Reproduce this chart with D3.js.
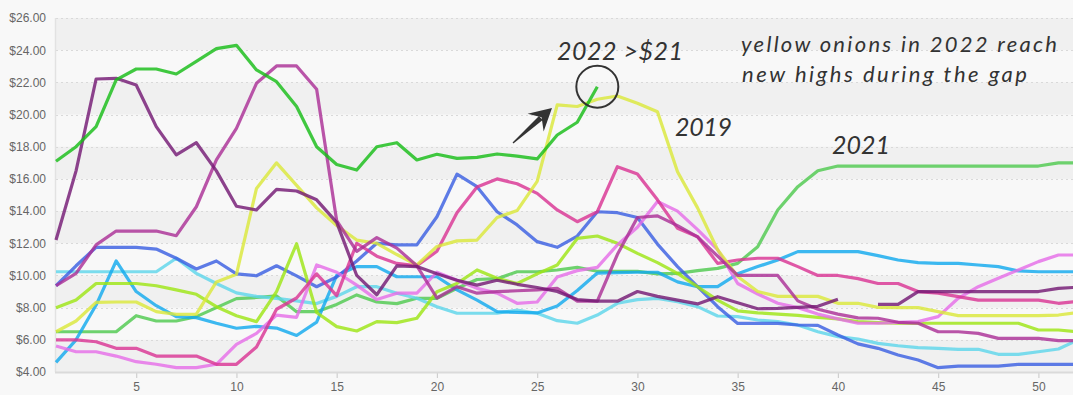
<!DOCTYPE html>
<html><head><meta charset="utf-8">
<script src="https://cdn.jsdelivr.net/npm/d3@7/dist/d3.min.js"></script>
<style>
html,body{margin:0;padding:0;background:#f8f8f8;}
svg{display:block;}
</style></head><body>
<svg id="chart" width="1073" height="395"></svg>
<script>
// ---------- data ----------
const weeks = d3.range(1, 53);
const yTicks = [4, 6, 8, 10, 12, 14, 16, 18, 20, 22, 24, 26];
const xTicks = [5, 10, 15, 20, 25, 30, 35, 40, 45, 50];

const seriesNames = ["2021", "lightCyan", "skyBlue", "blue", "lime", "violet", "pink", "2019", "magenta", "darkPurple", "2022"];

const v2021 = [6.5,6.5,6.5,6.5,7.5,7.17,7.17,7.44,8.0,8.56,8.63,8.73,7.75,7.75,8.2,8.79,8.35,8.25,8.58,8.58,9.2,9.75,9.8,10.23,10.23,10.34,10.5,10.26,10.25,10.25,10.1,10.13,10.3,10.44,10.75,11.79,14.07,15.52,16.51,16.8,16.8,16.8,16.8,16.8,16.8,16.8,16.8,16.8,16.8,16.8,17.0,17.0];
const vLightCyan = [10.23,10.23,10.23,10.23,10.23,10.23,11.07,10.13,9.5,8.92,8.7,8.58,8.42,8.25,8.7,9.3,9.3,8.89,8.58,8.06,7.65,7.65,7.65,7.85,7.65,7.19,7.03,7.54,8.27,8.5,8.57,8.37,8.06,7.48,7.44,7.23,7.13,6.92,6.5,6.2,6.05,5.78,5.63,5.51,5.47,5.41,5.41,5.1,5.1,5.26,5.43,6.0];
const vSkyBlue = [4.6,6.0,8.16,10.9,9.0,8.12,7.44,7.38,7.03,6.72,6.84,6.73,6.27,7.1,10.0,10.55,10.55,9.92,9.92,9.92,9.1,8.47,7.75,7.7,7.67,8.1,9.07,10.15,10.17,10.2,10.2,9.6,9.3,9.3,10.1,10.55,10.96,11.48,11.48,11.48,11.48,11.23,10.96,10.8,10.75,10.75,10.65,10.55,10.28,10.23,10.23,10.23];
const vBlue = [9.36,10.6,11.75,11.75,11.75,11.64,11.07,10.4,10.9,10.1,9.98,10.6,9.97,9.3,9.9,10.9,12.0,11.9,11.9,13.65,16.3,15.52,13.96,13.14,12.1,11.75,12.45,13.96,13.9,13.6,11.95,10.55,9.3,8.06,7.02,7.02,7.02,6.92,6.9,6.3,5.75,5.47,5.06,4.75,4.27,4.37,4.37,4.37,4.48,4.48,4.48,4.48];
const vLime = [8.0,8.47,9.5,9.5,9.5,9.36,9.1,8.83,8.06,7.5,7.13,9.0,11.97,7.7,6.82,6.55,7.13,7.07,7.34,8.99,9.5,10.34,9.82,9.5,10.1,10.65,12.3,12.45,12.0,11.37,10.8,10.13,9.3,8.47,7.8,7.68,7.6,7.52,7.4,7.3,7.13,7.07,7.03,7.03,7.03,7.03,7.03,7.03,7.03,6.61,6.61,6.5];
const vViolet = [5.62,5.26,5.26,4.99,4.64,4.48,4.27,4.27,4.48,5.72,6.4,7.54,7.4,10.65,10.2,9.4,8.5,8.9,8.9,10.2,9.7,9.2,8.9,8.27,8.35,9.9,10.3,10.5,11.9,13.0,14.6,14.0,12.85,11.6,9.5,8.85,8.27,8.0,7.6,7.3,7.03,7.03,7.09,7.13,7.44,8.58,9.3,9.82,10.34,10.86,11.27,11.27];
const vPink = [6.0,6.0,5.88,5.47,5.47,4.99,4.99,4.99,4.48,4.48,5.55,7.9,8.6,10.1,8.75,12.0,11.2,10.75,10.6,11.5,13.9,15.5,16.0,15.7,15.1,14.07,13.34,13.96,16.76,16.3,14.7,12.93,12.4,10.75,10.96,11.07,11.07,10.55,10.0,10.0,9.8,9.5,9.5,9.0,8.9,8.68,8.47,8.47,8.47,8.47,8.27,8.4];
const v2019 = [6.5,7.17,8.33,8.35,8.35,7.75,7.58,7.6,9.6,10.07,15.41,17.0,15.6,14.2,13.1,12.2,12.0,11.3,10.65,11.8,12.15,12.2,13.6,14.03,15.85,20.6,20.5,20.95,21.15,20.7,20.18,16.45,14.2,11.6,9.93,9.0,8.7,8.7,8.7,8.27,8.27,8.02,8.0,8.0,7.75,7.5,7.5,7.5,7.5,7.5,7.54,7.7];
const vMagenta = [9.36,10.13,11.9,12.76,12.76,12.76,12.47,14.27,17.18,19.14,21.94,23.02,23.02,21.57,13.4,11.5,12.35,11.7,10.6,8.6,9.3,8.9,9.0,9.05,9.1,9.2,8.4,8.4,11.3,13.6,13.7,13.1,12.4,11.2,10.0,10.0,10.0,8.42,7.9,7.6,7.36,7.34,7.09,7.03,6.5,6.5,6.4,6.09,6.09,6.09,5.95,5.95];
const vDarkPurple = [12.2,16.5,22.21,22.25,21.84,19.25,17.49,18.25,16.5,14.3,14.07,15.35,15.25,14.7,13.3,10.0,8.8,10.6,10.55,10.1,9.7,9.4,9.7,9.45,9.25,9.0,8.5,8.4,8.4,9.0,8.7,8.47,8.23,8.68,8.3,7.93,7.96,8.02,8.08,8.52,null,8.2,8.2,9.0,9.0,9.0,9.0,9.0,9.0,9.0,9.2,9.27];
const v2022 = [17.1,18.0,19.25,22.15,22.83,22.83,22.52,23.3,24.1,24.3,22.77,22.04,20.5,18.0,16.9,16.55,18.0,18.25,17.18,17.53,17.28,17.34,17.55,17.42,17.24,18.73,19.52,21.73,null,null,null,null,null,null,null,null,null,null,null,null,null,null,null,null,null,null,null,null,null,null,null,null];

const seriesValues = [v2021, vLightCyan, vSkyBlue, vBlue, vLime, vViolet, vPink, v2019, vMagenta, vDarkPurple, v2022];
const seriesColors = ["#4fc94f", "#5ed6ea", "#12a9ee", "#3a5fe2", "#9ee515", "#e56ee8", "#d93594", "#dbe83a", "#ab2f96", "#741a74", "#17bd17"];

// ---------- chart ----------
const W = 1073, H = 395;
const svg = d3.select("#chart");
const x = d3.scaleLinear().domain([1, 52]).range([56, 1078.5]);
const y = d3.scaleLinear().domain([4, 26]).range([372, 18]);
const plotRight = W;

svg.append("rect").attr("width", W).attr("height", H).attr("fill", "#f8f8f8");

// alternating bands
const bandStarts = yTicks.filter((t, i) => i % 2 === 0 && t < 26);
svg.append("g").selectAll("rect").data(bandStarts).join("rect")
  .attr("x", x(1)).attr("width", plotRight - x(1))
  .attr("y", d => y(d + 2)).attr("height", d => y(d) - y(d + 2))
  .attr("fill", "#f0f0f0");

// dotted gridlines
svg.append("g").selectAll("line").data(yTicks.filter(t => t > 4)).join("line")
  .attr("x1", x(1)).attr("x2", plotRight)
  .attr("y1", d => Math.round(y(d)) + 0.5).attr("y2", d => Math.round(y(d)) + 0.5)
  .attr("stroke", "#d9d9d9").attr("stroke-width", 1.2)
  .attr("stroke-dasharray", "2,3");

// y axis labels
const gy = svg.append("g").attr("transform", `translate(${x(1)},0)`)
  .call(d3.axisLeft(y).tickValues(yTicks).tickFormat(d => "$" + d.toFixed(2)).tickSize(0).tickPadding(10));
gy.select(".domain").remove();
gy.selectAll("text").attr("fill", "#666").style("font-family", "'Liberation Sans', Arial, sans-serif").style("font-size", "12px");

// x axis
const gx = svg.append("g").attr("transform", `translate(0,${y(4)})`)
  .call(d3.axisBottom(x).tickValues(xTicks).tickFormat(d3.format("d")).tickSize(6).tickPadding(4));
gx.select(".domain").remove();
gx.selectAll("line").attr("stroke", "#cfcfcf").attr("stroke-width", 1.2);
gx.selectAll("text").attr("fill", "#666").style("font-family", "'Liberation Sans', Arial, sans-serif").style("font-size", "12px");

// axis lines
svg.append("line").attr("x1", x(1) - 0.5).attr("x2", x(1) - 0.5).attr("y1", y(26)).attr("y2", y(4))
  .attr("stroke", "#e2e2e2").attr("stroke-width", 1.5);
svg.append("line").attr("x1", x(1) - 1).attr("x2", plotRight).attr("y1", y(4) + 0.5).attr("y2", y(4) + 0.5)
  .attr("stroke", "#dadada").attr("stroke-width", 2);

// series lines
const line = d3.line()
  .defined(d => d != null)
  .x((d, i) => x(weeks[i]))
  .y(d => y(d));

svg.append("g").selectAll("path").data(seriesValues).join("path")
  .attr("d", d => line(d))
  .attr("fill", "none")
  .attr("stroke", (d, i) => seriesColors[i])
  .attr("stroke-width", 3.2)
  .attr("stroke-opacity", 0.82)
  .attr("stroke-linejoin", "round")
  .attr("stroke-linecap", "butt");

// ---------- annotations ----------
const annFont = "Lato, 'Open Sans', sans-serif";
function note(txt, px, py, size, targetW) {
  const t = svg.append("text").attr("x", px).attr("y", py)
    .style("font-family", annFont).style("font-style", "italic").style("font-weight", 400)
    .style("font-size", size + "px").attr("fill", "#333").text(txt);
  if (targetW) t.attr("textLength", targetW).attr("lengthAdjust", "spacing");
  return t;
}
note("2022 >$21", 557, 60, 25, 126);
note("2019", 675, 136, 25, 57);
note("2021", 832, 154, 25, 58);
note("yellow onions in 2022 reach", 741, 52, 22, 316);
note("new highs during the gap", 742, 82, 22, 285);

// circle around last 2022 point
const lastIdx = 27;
svg.append("circle").attr("cx", x(weeks[lastIdx])).attr("cy", y(v2022[lastIdx]))
  .attr("r", 21).attr("fill", "none").attr("stroke", "#333").attr("stroke-width", 2);

// arrow
const tail = [513, 143], tip = [552, 108];
const dx = tip[0] - tail[0], dy = tip[1] - tail[1], L = Math.hypot(dx, dy);
const u = [dx / L, dy / L], n = [-u[1], u[0]];
const P = (base, a, b) => [base[0] + u[0] * a + n[0] * b, base[1] + u[1] * a + n[1] * b];
const shaft = [P(tail, 0, -0.6), P(tail, 0, 0.6), P(tip, -15, 2.8), P(tip, -15, -2.8)];
const head = [tip, P(tip, -22, 12), P(tip, -14, 0), P(tip, -22, -12)];
svg.append("path").attr("d", "M" + shaft.join("L") + "Z").attr("fill", "#333");
svg.append("path").attr("d", "M" + head.join("L") + "Z").attr("fill", "#333");
</script>
</body></html>
